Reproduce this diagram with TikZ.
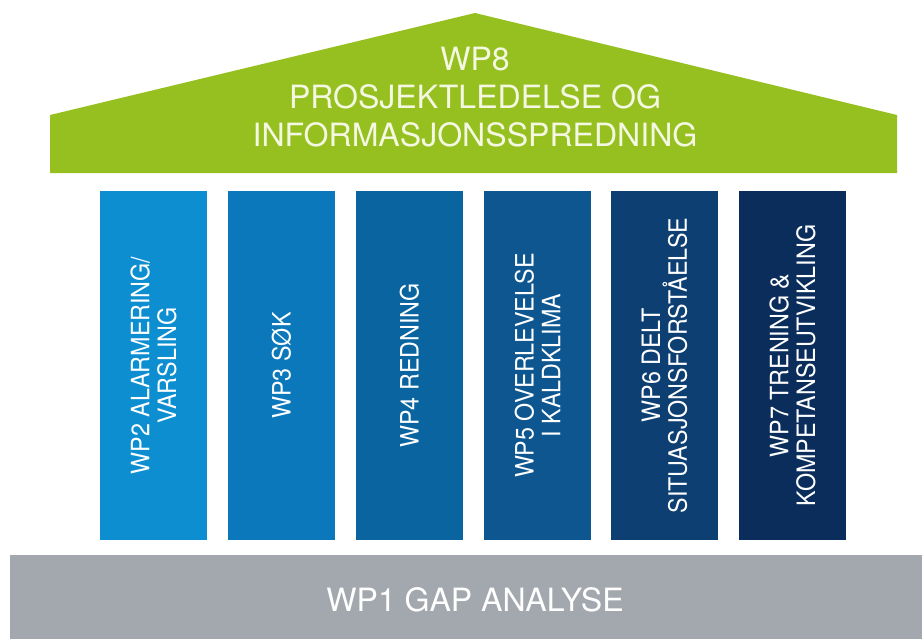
\documentclass[tikz,border=0pt]{standalone}
\usepackage{fontspec}
\setmainfont{TeX Gyre Heros}
\newfontfamily\pillarfont[FakeStretch=0.92]{TeX Gyre Heros}
\usepackage{tikz}
\usetikzlibrary{positioning}
\definecolor{roofgreen}{RGB}{150,192,31}
\definecolor{rooftext}{RGB}{244,248,226}
\definecolor{basegrey}{RGB}{163,168,174}
\definecolor{wpblue1}{RGB}{12,142,208}
\definecolor{wpblue2}{RGB}{10,120,186}
\definecolor{wpblue3}{RGB}{10,100,160}
\definecolor{wpblue4}{RGB}{14,86,143}
\definecolor{wpblue5}{RGB}{13,63,115}
\definecolor{wpblue6}{RGB}{11,45,91}

\begin{document}
\begin{tikzpicture}[
    x=0.025cm, y=-0.025cm,
    pillar/.style={rectangle, rotate=90, minimum width=8.725cm, minimum height=2.675cm, inner sep=0pt, text=white, align=center, font=\pillarfont\fontsize{18}{19}\selectfont},
    big label/.style={text=white, align=center, font=\fontsize{22.8}{27.2}\selectfont}
]
    \useasboundingbox (0,0) rectangle (922,639);

    % Roof
    \fill[roofgreen] (50,173) -- (50,115) -- (475,13) -- (897,115) -- (897,173) -- cycle;
    \node[big label, text=rooftext] (wp8) at (475,97) {WP8\\PROSJEKTLEDELSE OG\\INFORMASJONSSPREDNING};

    % Pillars
    \node[pillar, fill=wpblue1] (wp2) at (153.5,365.5) {WP2 ALARMERING/\\VARSLING};
    \node[pillar, fill=wpblue2] (wp3) at (281.5,365.5) {WP3 SØK};
    \node[pillar, fill=wpblue3] (wp4) at (409.5,365.5) {WP4 REDNING};
    \node[pillar, fill=wpblue4] (wp5) at (537.5,365.5) {WP5 OVERLEVELSE\\I KALDKLIMA};
    \node[pillar, fill=wpblue5] (wp6) at (664.5,365.5) {WP6 DELT\\SITUASJONSFORSTÅELSE};
    \node[pillar, fill=wpblue6] (wp7) at (792.5,365.5) {WP7 TRENING \&\\KOMPETANSEUTVIKLING};

    % Foundation
    \fill[basegrey] (10,555) rectangle (922,639);
    \node[big label] (wp1) at (475,600) {WP1 GAP ANALYSE};
\end{tikzpicture}
\end{document}
